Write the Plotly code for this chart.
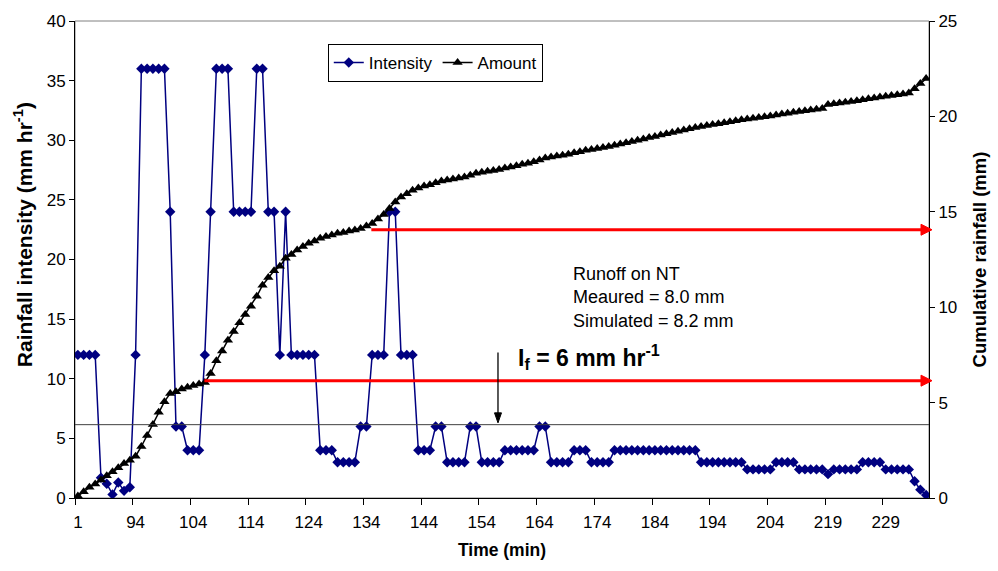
import plotly.graph_objects as go

# Category labels (time, min) for each observation
time_min = ([1, 2, 3, 4, 11, 21, 61, 70, 80, 93] + list(range(94, 205))
            + [205, 206, 207, 208, 209, 210, 211, 212, 213] + list(range(219, 230))
            + [230, 231, 232, 233, 234, 236, 240])
time_labels = [str(t) for t in time_min]

# Rainfall intensity (mm/hr)
intensity = [
    12, 12, 12, 12, 1.7, 1.2, 0.3, 1.3, 0.6, 0.9,
    12, 36, 36, 36, 36, 36, 24, 6, 6, 4,
    4, 4, 12, 24, 36, 36, 36, 24, 24, 24,
    24, 36, 36, 24, 24, 12, 24, 12, 12, 12,
    12, 12, 4, 4, 4, 3, 3, 3, 3, 6,
    6, 12, 12, 12, 24, 24, 12, 12, 12, 4,
    4, 4, 6, 6, 3, 3, 3, 3, 6, 6,
    3, 3, 3, 3, 4, 4, 4, 4, 4, 4,
    6, 6, 3, 3, 3, 3, 4, 4, 4, 3,
    3, 3, 3, 4, 4, 4, 4, 4, 4, 4,
    4, 4, 4, 4, 4, 4, 4, 4, 3, 3,
    3, 3, 3, 3, 3, 3, 2.4, 2.4, 2.4, 2.4,
    2.4, 3, 3, 3, 3, 2.4, 2.4, 2.4, 2.4, 2.4,
    2, 2.4, 2.4, 2.4, 2.4, 2.4, 3, 3, 3, 3,
    2.4, 2.4, 2.4, 2.4, 2.4, 1.4, 0.7, 0.25,
]

# Cumulative rainfall amount (mm)
amount = [
    0.10, 0.33, 0.56, 0.73, 0.94, 1.16, 1.37, 1.58, 1.81, 1.98,
    2.19, 2.70, 3.28, 3.85, 4.50, 5.05, 5.48, 5.57, 5.71, 5.80,
    5.89, 5.97, 6.06, 6.53, 7.19, 7.71, 8.27, 8.72, 9.18, 9.62,
    10.05, 10.57, 11.15, 11.56, 11.91, 12.14, 12.57, 12.76, 13.00, 13.18,
    13.35, 13.47, 13.61, 13.70, 13.78, 13.87, 13.92, 13.99, 14.05, 14.13,
    14.25, 14.39, 14.62, 14.86, 15.17, 15.52, 15.78, 15.95, 16.13, 16.25,
    16.35, 16.42, 16.52, 16.62, 16.67, 16.72, 16.77, 16.82, 16.92, 17.02,
    17.07, 17.12, 17.17, 17.22, 17.29, 17.35, 17.42, 17.49, 17.55, 17.62,
    17.72, 17.82, 17.87, 17.92, 17.97, 18.02, 18.09, 18.15, 18.22, 18.27,
    18.32, 18.37, 18.42, 18.49, 18.55, 18.62, 18.69, 18.75, 18.82, 18.89,
    18.95, 19.02, 19.09, 19.15, 19.22, 19.29, 19.35, 19.42, 19.47, 19.52,
    19.57, 19.62, 19.67, 19.72, 19.77, 19.82, 19.86, 19.90, 19.94, 19.98,
    20.02, 20.07, 20.12, 20.17, 20.22, 20.26, 20.30, 20.34, 20.38, 20.42,
    20.62, 20.66, 20.70, 20.74, 20.78, 20.82, 20.87, 20.92, 20.97, 21.02,
    21.06, 21.10, 21.14, 21.18, 21.22, 21.45, 21.72, 21.98,
]

threshold_intensity = 6.15            # I_f line (left axis, mm/hr)
runoff_arrow_levels = [14.06, 6.15]   # red arrows (right axis, mm)
runoff_arrow_starts = [0.347, 0.1515] # fraction of x domain where arrows start

FONT = "Liberation Sans, Arial, sans-serif"

fig = go.Figure()
fig.add_trace(go.Scatter(
    x=time_labels, y=intensity, name="Intensity", mode="lines+markers",
    line=dict(color="#000080", width=1.5),
    marker=dict(symbol="diamond", size=8, color="#000080"),
))
fig.add_trace(go.Scatter(
    x=time_labels, y=amount, name="Amount", mode="lines+markers", yaxis="y2",
    line=dict(color="black", width=1.5),
    marker=dict(symbol="triangle-up", size=9, color="black"),
))

fig.update_layout(
    width=998, height=571,
    margin=dict(l=75, r=65, t=18, b=73),
    paper_bgcolor="white", plot_bgcolor="white",
    font=dict(family=FONT, size=17, color="black"),
    showlegend=True,
    legend=dict(
        orientation="h", x=0.296, y=0.952, xanchor="left", yanchor="top",
        bordercolor="black", borderwidth=1, bgcolor="white",
        font=dict(size=17), itemwidth=30, tracegroupgap=0,
    ),
    xaxis=dict(
        type="category", range=[-0.5, len(time_labels) - 0.5],
        tickmode="linear", tick0=0, dtick=10, tickson="boundaries",
        tickangle=0, ticklabelstandoff=9,
        ticks="outside", ticklen=6, tickcolor="black",
        showline=True, linecolor="black", linewidth=1,
        showgrid=False, zeroline=False,
        tickfont=dict(size=17),
        title=dict(text="<b>Time (min)</b>", font=dict(size=17.5), standoff=12),
    ),
    yaxis=dict(
        range=[0, 40], dtick=5, ticks="outside", ticklen=5, tickcolor="black",
        showline=True, linecolor="black", linewidth=1,
        showgrid=False, zeroline=False, tickfont=dict(size=17),
    ),
    yaxis2=dict(
        overlaying="y", side="right",
        range=[0, 25], dtick=5, ticks="outside", ticklen=5, tickcolor="black",
        showline=True, linecolor="black", linewidth=1,
        showgrid=False, zeroline=False, tickfont=dict(size=17),
        title=dict(text="<b>Cumulative rainfall (mm)</b>", font=dict(size=18.5), standoff=16),
    ),
)

# left axis title (placed as in the reference, slightly above plot centre)
fig.add_annotation(x=-0.0615, xref="paper", y=0.552, yref="paper",
                   xanchor="center", yanchor="middle", textangle=-90, showarrow=False,
                   text="<b>Rainfall intensity (mm hr<sup>-1</sup>)</b>",
                   font=dict(size=21))

# plot-area frame (gray) and I_f threshold line
fig.add_shape(type="rect", xref="paper", yref="paper", x0=0, x1=1, y0=0, y1=1,
              line=dict(color="#808080", width=1), layer="below")
fig.add_shape(type="line", xref="x domain", yref="y", x0=0, x1=1,
              y0=threshold_intensity, y1=threshold_intensity,
              line=dict(color="#404040", width=1))

# red arrows: shaft + arrowhead
for lvl, x0 in zip(runoff_arrow_levels, runoff_arrow_starts):
    fig.add_shape(type="line", xref="x domain", yref="y2", x0=x0, x1=0.995,
                  y0=lvl, y1=lvl, line=dict(color="#ff0000", width=3))
    fig.add_shape(type="path", xref="x domain", yref="y2",
                  xsizemode="pixel", ysizemode="pixel", xanchor=1, yanchor=lvl,
                  path="M 3 0 L -8 -5.5 L -8 5.5 Z",
                  fillcolor="#ff0000", line=dict(color="#ff0000", width=1))

# black down arrow to the I_f line
arrow_x = 0.4953
fig.add_shape(type="line", xref="x domain", yref="y", x0=arrow_x, x1=arrow_x,
              y0=12.2, y1=6.9, line=dict(color="black", width=1.3))
fig.add_shape(type="path", xref="x domain", yref="y",
              xsizemode="pixel", ysizemode="pixel", xanchor=arrow_x, yanchor=6.3,
              path="M 0 0 L -3.5 10 L 3.5 10 Z",
              fillcolor="black", line=dict(color="black", width=1))

fig.add_annotation(x=0.5163, xref="x domain", y=11.83, yref="y", xanchor="left",
                   yanchor="middle", showarrow=False,
                   text="<b>I<sub>f</sub> = 6 mm hr<sup>-1</sup></b>",
                   font=dict(size=23))

fig.add_annotation(x=0.5804, xref="x domain", y=16.83, yref="y", xanchor="left",
                   yanchor="middle", showarrow=False, align="left",
                   text="Runoff on NT<br>Meaured = 8.0 mm<br>Simulated = 8.2 mm",
                   font=dict(size=18))

fig.write_html("out.html")
